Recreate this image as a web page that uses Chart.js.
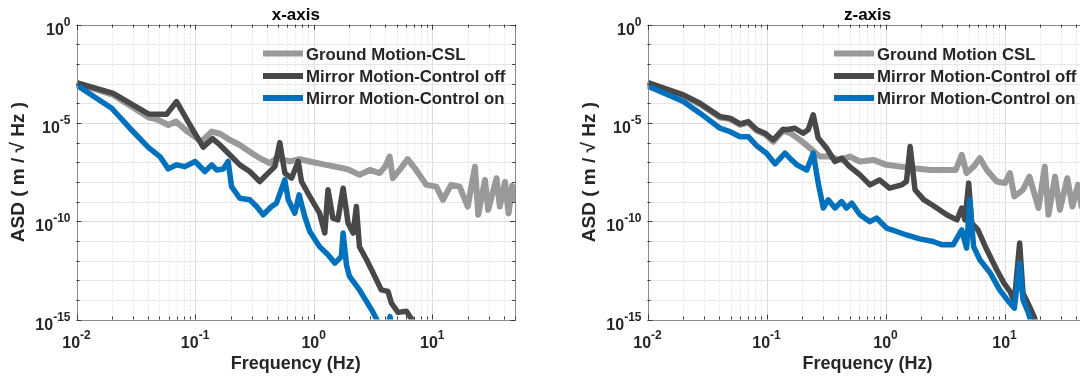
<!DOCTYPE html>
<html>
<head>
<meta charset="utf-8">
<script src="https://cdn.jsdelivr.net/npm/chart.js@4.4.1/dist/chart.umd.min.js"></script>
<style>
  html, body { margin: 0; padding: 0; background: #fff; overflow: hidden; }
  #wrap { position: relative; width: 1080px; height: 379px; overflow: hidden; }
  canvas { position: absolute; top: 0; }
  #chartX { left: 0; }
  #chartZ { left: 540px; }
</style>
</head>
<body>
<div id="wrap">
  <canvas id="chartX" width="540" height="379"></canvas>
  <canvas id="chartZ" width="560" height="379"></canvas>
</div>
<script>
// ---- data (frequency in Hz, ASD in m/sqrt(Hz)) ----

// x-axis panel
const xGroundFreq = [0.01, 0.0204, 0.0403, 0.0474, 0.0594, 0.069, 0.0846, 0.113, 0.138, 0.162, 0.196, 0.238, 0.289, 0.351, 0.427, 0.485, 0.63, 0.76, 0.927, 1.27, 1.77, 2.0, 2.43, 2.97, 3.6, 4.0, 4.37, 4.65, 5.3, 6.2, 7.3, 8.9, 10.8, 12.3, 14.4, 17.0, 19.9, 22.9, 24.4, 27.8, 29.6, 34.8, 37.1, 41, 44, 47, 50];
const xGroundAsd = [1.05e-3, 2.69e-4, 1.95e-5, 1.55e-5, 7.9e-6, 1.17e-5, 3.98e-6, 1.12e-6, 3.63e-6, 2.82e-6, 1.38e-6, 7.6e-7, 3.47e-7, 1.62e-7, 8.9e-8, 1.62e-7, 1.1e-7, 1.45e-7, 1.1e-7, 7.4e-8, 5.0e-8, 4.07e-8, 2.29e-8, 4.07e-8, 2.82e-8, 6.0e-8, 1.95e-7, 1.55e-8, 4.07e-8, 1.45e-7, 4.07e-8, 7.1e-9, 5.75e-9, 1.23e-9, 7.1e-9, 5.75e-9, 5.6e-10, 6.0e-8, 2.14e-10, 1.26e-8, 3.8e-10, 1.55e-8, 5.6e-10, 1.0e-8, 2.5e-10, 6.3e-9, 1.0e-9];

const xOffFreq = [0.01, 0.0204, 0.0403, 0.0575, 0.0698, 0.0904, 0.117, 0.140, 0.162, 0.196, 0.238, 0.289, 0.351, 0.413, 0.470, 0.518, 0.571, 0.650, 0.740, 0.789, 0.927, 1.12, 1.24, 1.32, 1.45, 1.6, 1.77, 1.95, 2.15, 2.29, 2.43, 2.79, 3.17, 3.72, 4.23, 4.52, 5.14, 6.05, 6.6, 7.0];
const xOffAsd = [1.12e-3, 3.24e-4, 2.88e-5, 2.75e-5, 1.23e-4, 7.9e-6, 5.9e-7, 1.58e-6, 7.6e-7, 2.4e-7, 7.4e-8, 3.4e-8, 1.05e-8, 2.82e-8, 6.0e-8, 1.0e-6, 2.82e-8, 1.55e-8, 1.1e-7, 1.05e-8, 1.82e-9, 2.57e-10, 2.5e-11, 4.0e-9, 1.45e-10, 1.17e-10, 4.8e-9, 7.9e-11, 2.5e-11, 5.6e-10, 5.1e-12, 1.1e-12, 2.3e-13, 3.2e-14, 2.7e-14, 6.9e-15, 2.3e-15, 2.6e-15, 1.2e-15, 4e-16];

const xOnFreq = [0.01, 0.0198, 0.0282, 0.0403, 0.0505, 0.0594, 0.0698, 0.082, 0.1, 0.121, 0.138, 0.152, 0.173, 0.190, 0.203, 0.238, 0.289, 0.33, 0.375, 0.441, 0.485, 0.571, 0.61, 0.693, 0.754, 0.84, 0.927, 1.12, 1.32, 1.51, 1.71, 1.77, 1.89, 2.0, 2.43, 3.07, 3.4, 3.7, 4.2, 4.4, 4.6];
const xOnAsd = [8.5e-4, 5.6e-5, 5.4e-6, 5.75e-7, 1.95e-7, 4.6e-8, 7.4e-8, 6.0e-8, 1.1e-7, 3.4e-8, 7.4e-8, 4.07e-8, 4.5e-8, 1.1e-7, 5.75e-9, 1.48e-9, 1.23e-9, 5.6e-10, 2.14e-10, 5.6e-10, 8.3e-10, 1.26e-8, 1.23e-9, 2.57e-10, 2.2e-9, 1.74e-10, 3.0e-11, 5.1e-12, 1.95e-12, 7.4e-13, 1.58e-12, 2.5e-11, 6.0e-13, 1.6e-13, 3.2e-14, 3.2e-15, 1e-15, 3e-16, 4e-16, 1.4e-15, 3e-16];

// z-axis panel
const zGroundFreq = [0.01, 0.02, 0.0276, 0.0407, 0.0494, 0.06, 0.0703, 0.0829, 0.097, 0.114, 0.138, 0.157, 0.191, 0.232, 0.28, 0.34, 0.415, 0.50, 0.61, 0.79, 1.02, 1.33, 1.72, 2.37, 3.27, 3.9, 4.37, 4.8, 5.5, 6.2, 7.1, 8.6, 10.1, 11.1, 12.1, 14.3, 16.2, 19.3, 21.8, 23.4, 26.6, 29.2, 33.7, 37.2, 41.4, 44.3, 50];
const zGroundAsd = [1.12e-3, 2.5e-4, 8.9e-5, 1.9e-5, 1.58e-5, 7.9e-6, 1.05e-5, 3.98e-6, 2.7e-6, 1.12e-6, 3.98e-6, 3.16e-6, 1.38e-6, 5.25e-7, 1.95e-7, 1.95e-7, 1.32e-7, 1.95e-7, 1.1e-7, 1.32e-7, 7.4e-8, 6.0e-8, 5.0e-8, 4.07e-8, 4.07e-8, 4.07e-8, 2.4e-7, 2.82e-8, 6.0e-8, 1.62e-7, 4.07e-8, 1.05e-8, 8.7e-9, 2.82e-8, 1.82e-9, 4.0e-9, 1.86e-8, 4.7e-10, 6.0e-8, 2.14e-10, 1.86e-8, 3.8e-10, 1.55e-8, 5.6e-10, 7.1e-9, 5.6e-10, 3.2e-9];

const zOffFreq = [0.01, 0.02, 0.0276, 0.0407, 0.0494, 0.06, 0.0703, 0.0829, 0.097, 0.114, 0.138, 0.147, 0.173, 0.203, 0.224, 0.247, 0.272, 0.32, 0.376, 0.428, 0.50, 0.61, 0.74, 0.89, 1.08, 1.37, 1.5, 1.61, 1.77, 2.09, 2.51, 3.27, 3.98, 4.37, 4.65, 5.0, 5.3, 5.98, 7.1, 8.6, 9.9, 11.1, 12.1, 13.4, 14.3, 16.2, 17.9, 18.5];
const zOffAsd = [1.12e-3, 2.69e-4, 1.0e-4, 2.1e-5, 1.74e-5, 8.9e-6, 1.17e-5, 4.5e-6, 3.0e-6, 1.38e-6, 4.8e-6, 4.5e-6, 5.4e-6, 3.0e-6, 4.5e-6, 2.57e-5, 1.7e-6, 5.25e-7, 1.1e-7, 1.62e-7, 6.0e-8, 2.29e-8, 7.1e-9, 1.26e-8, 4.8e-9, 7.1e-9, 1.05e-8, 6.3e-7, 4.0e-9, 1.26e-9, 6.3e-10, 2.14e-10, 1.17e-10, 4.7e-10, 1.17e-10, 8.7e-9, 7.9e-11, 3.6e-11, 3.5e-12, 3.4e-13, 7.1e-14, 2.7e-14, 8.3e-15, 7.8e-12, 2.2e-14, 4.6e-15, 1.2e-15, 4e-16];

const zOnFreq = [0.01, 0.02, 0.0276, 0.0407, 0.0494, 0.06, 0.0703, 0.0829, 0.1, 0.118, 0.143, 0.157, 0.18, 0.218, 0.247, 0.272, 0.30, 0.33, 0.376, 0.428, 0.47, 0.52, 0.61, 0.74, 0.84, 1.02, 1.24, 1.5, 1.94, 2.51, 3.0, 3.7, 4.37, 4.8, 5.1, 5.5, 6.2, 7.6, 9.1, 10.8, 12.1, 13.4, 14.3, 15.7, 16.7, 17.2];
const zOnAsd = [7.6e-4, 1.23e-4, 3.16e-5, 5.4e-6, 3.6e-6, 2.0e-6, 2.0e-6, 6.8e-7, 2.9e-7, 8.3e-8, 2.9e-7, 1.62e-7, 7.4e-8, 4.07e-8, 2.9e-7, 8.7e-9, 4.7e-10, 1.23e-9, 4.7e-10, 1.0e-9, 4.7e-10, 8.3e-10, 2.14e-10, 9.5e-11, 1.45e-10, 4.5e-11, 3.0e-11, 2.0e-11, 1.26e-11, 9.3e-12, 6.3e-12, 6.3e-12, 3.6e-11, 4.3e-12, 1.23e-9, 5.1e-12, 1.1e-12, 2.3e-13, 3.2e-14, 8.3e-15, 3.8e-15, 7.4e-13, 1.0e-14, 2.6e-15, 8e-16, 3e-16];

// labels and tick exponents
const xLegendLabels = ['Ground Motion-CSL', 'Mirror Motion-Control off', 'Mirror Motion-Control on'];
const zLegendLabels = ['Ground Motion CSL', 'Mirror Motion-Control off', 'Mirror Motion-Control on'];
const freqTickExps = [-2, -1, 0, 1];
const asdTickExps = [0, -5, -10, -15];

const X_MIN = 0.01, X_MAX = 50;
const Y_MIN = 1e-15, Y_MAX = 1;

const FONT = '"Liberation Sans", Arial, Helvetica, sans-serif';
const TEXT_COLOR = '#262626';
const SERIES_COLORS = ['#999999', '#484848', '#0072bd'];
const SERIES_WIDTHS = [6, 5.5, 5.5];

function makeSeries(freq, asd) {
    return freq.map((f, i) => ({ x: f, y: asd[i] }));
}

// draws "10" with a raised exponent
function drawPower(ctx, exp, x, baseline, align) {
    const base = '10', sup = String(exp);
    ctx.font = 'bold 16px ' + FONT;
    const wb = ctx.measureText(base).width;
    ctx.font = 'bold 12px ' + FONT;
    const ws = ctx.measureText(sup).width;
    const left = align === 'right' ? x - wb - ws : x - (wb + ws) / 2;
    ctx.textAlign = 'left';
    ctx.textBaseline = 'alphabetic';
    ctx.font = 'bold 16px ' + FONT;
    ctx.fillText(base, left, baseline);
    ctx.font = 'bold 12px ' + FONT;
    ctx.fillText(sup, left + wb, baseline - 9);
}

function line(ctx, x1, y1, x2, y2) {
    ctx.beginPath();
    ctx.moveTo(x1, y1);
    ctx.lineTo(x2, y2);
    ctx.stroke();
}

// grid values on the frequency axis: 1..9 x 10^n up to X_MAX
const freqGridValues = [];
for (let e = -2; e <= 1; e++) {
    for (let m = 1; m <= 9; m++) {
        const v = m * Math.pow(10, e);
        if (v <= X_MAX + 1e-9) freqGridValues.push({ v: v, major: m === 1 });
    }
}
const asdGridExps = [];
for (let e = 0; e >= -15; e--) asdGridExps.push(e);

const decorPlugin = {
    id: 'decor',
    beforeDatasetsDraw(chart) {
        const { ctx, chartArea: a } = chart;
        const x = chart.scales.x, y = chart.scales.y;
        ctx.save();
        ctx.lineWidth = 1;
        freqGridValues.forEach(g => {
            const px = Math.round(x.getPixelForValue(g.v)) + 0.5;
            ctx.strokeStyle = g.major ? '#dcdcdc' : '#e4e4e4';
            ctx.setLineDash(g.major ? [] : [2, 2]);
            line(ctx, px, a.top, px, a.bottom);
        });
        asdGridExps.forEach(e => {
            const py = Math.round(y.getPixelForValue(Math.pow(10, e))) + 0.5;
            const major = e % 5 === 0;
            ctx.strokeStyle = major ? '#dcdcdc' : '#e6e6e6';
            ctx.setLineDash([]);
            line(ctx, a.left, py, a.right, py);
        });
        ctx.restore();
    },
    afterDatasetsDraw(chart, args, opts) {
        const { ctx, chartArea: a } = chart;
        const x = chart.scales.x, y = chart.scales.y;
        ctx.save();

        // axes box
        ctx.lineWidth = 1;
        ctx.strokeStyle = '#8a8a8a';
        ctx.strokeRect(Math.round(a.left) + 0.5, Math.round(a.top) + 0.5,
            Math.round(a.right) - Math.round(a.left), Math.round(a.bottom) - Math.round(a.top));

        // inward ticks
        ctx.strokeStyle = '#3a3a3a';
        freqGridValues.forEach(g => {
            const px = Math.round(x.getPixelForValue(g.v)) + 0.5;
            const len = g.major ? 5 : 3;
            line(ctx, px, a.bottom, px, a.bottom - len);
            line(ctx, px, a.top, px, a.top + len);
        });
        asdGridExps.forEach(e => {
            const py = Math.round(y.getPixelForValue(Math.pow(10, e))) + 0.5;
            const len = e % 5 === 0 ? 5 : 3;
            line(ctx, a.left, py, a.left + len, py);
            line(ctx, a.right, py, a.right - len, py);
        });

        // tick labels
        ctx.fillStyle = TEXT_COLOR;
        freqTickExps.forEach(e => {
            drawPower(ctx, e, x.getPixelForValue(Math.pow(10, e)), a.bottom + 28, 'center');
        });
        asdTickExps.forEach(e => {
            drawPower(ctx, e, a.left - 6, y.getPixelForValue(Math.pow(10, e)) + 10, 'right');
        });

        // axis titles
        const cx = (a.left + a.right) / 2;
        ctx.textAlign = 'center';
        ctx.textBaseline = 'alphabetic';
        ctx.font = 'bold 18px ' + FONT;
        ctx.fillText('Frequency (Hz)', cx, a.bottom + 49);

        ctx.save();
        ctx.translate(a.left - 57.5, (a.top + a.bottom) / 2);
        ctx.rotate(-Math.PI / 2);
        ctx.textBaseline = 'middle';
        ctx.font = 'bold 19px ' + FONT;
        ctx.fillText('ASD ( m / \u221A Hz )', 0, 0);
        ctx.restore();

        // panel title
        ctx.fillStyle = '#000';
        ctx.font = 'bold 17px ' + FONT;
        ctx.fillText(opts.title, cx, a.top - 4.5);

        // legend
        const rowsY = [53.5, 76, 98];
        chart.data.datasets.forEach((ds, i) => {
            const ly = rowsY[i];
            ctx.strokeStyle = ds.borderColor;
            ctx.lineWidth = 6;
            ctx.setLineDash([]);
            line(ctx, a.left + 186.5, ly, a.left + 226.5, ly);
            ctx.fillStyle = TEXT_COLOR;
            ctx.textAlign = 'left';
            ctx.textBaseline = 'alphabetic';
            ctx.font = 'bold 16.8px ' + FONT;
            ctx.fillText(ds.label, a.left + 229.5, ly + 6);
        });
        ctx.restore();
    }
};

function makePanel(canvasId, title, labels, series, padLeft, padRight) {
    const datasets = series.map((s, i) => ({
        label: labels[i],
        data: makeSeries(s[0], s[1]),
        borderColor: SERIES_COLORS[i],
        backgroundColor: SERIES_COLORS[i],
        borderWidth: SERIES_WIDTHS[i],
        borderJoinStyle: 'round',
        borderCapStyle: 'butt',
        pointRadius: 0,
        tension: 0,
        fill: false,
        clip: 0,
        order: 3 - i
    }));

    return new Chart(document.getElementById(canvasId), {
        type: 'line',
        data: { datasets: datasets },
        options: {
            responsive: false,
            animation: false,
            events: [],
            layout: { padding: { left: padLeft, right: padRight, top: 24.7, bottom: 59.5 } },
            scales: {
                x: { type: 'logarithmic', min: X_MIN, max: X_MAX, display: false },
                y: { type: 'logarithmic', min: Y_MIN, max: Y_MAX, display: false }
            },
            plugins: {
                legend: { display: false },
                tooltip: { enabled: false },
                decor: { title: title }
            }
        },
        plugins: [decorPlugin]
    });
}

makePanel('chartX', 'x-axis', xLegendLabels,
    [[xGroundFreq, xGroundAsd], [xOffFreq, xOffAsd], [xOnFreq, xOnAsd]], 76.5, 24.8);
makePanel('chartZ', 'z-axis', zLegendLabels,
    [[zGroundFreq, zGroundAsd], [zOffFreq, zOffAsd], [zOnFreq, zOnAsd]], 107.5, 12.3);
</script>
</body>
</html>
